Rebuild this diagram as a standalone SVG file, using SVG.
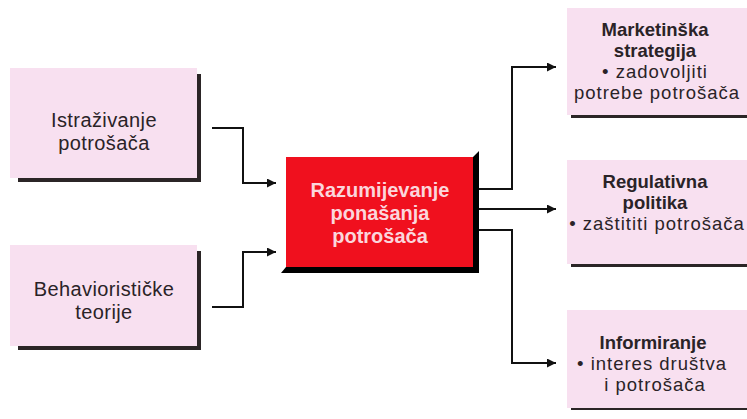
<svg xmlns="http://www.w3.org/2000/svg" width="747" height="419" viewBox="0 0 747 419">
<defs>
<style>
.box{fill:#f8e0f0}
.sh{fill:#2b2526}
.t{font-family:"Liberation Sans","Arial",sans-serif;font-size:18.5px;letter-spacing:1px;fill:#2a2327;text-anchor:middle}
.l{font-size:20px;letter-spacing:0.4px}
.b{font-weight:bold;letter-spacing:0}
.rt{font-family:"Liberation Sans","Arial",sans-serif;font-size:20px;font-weight:bold;fill:#fbd6dc;text-anchor:middle}
.c{fill:none;stroke:#111;stroke-width:2}
</style>
<marker id="ah" viewBox="0 0 10 10" refX="10" refY="5" markerWidth="10" markerHeight="9" markerUnits="userSpaceOnUse" orient="auto">
<path d="M0,0 L10,5 L0,10 z" fill="#111"/>
</marker>
</defs>
<rect width="747" height="419" fill="#fff"/>

<g id="istrazivanje">
<rect class="sh" x="18" y="74" width="183" height="108"/>
<rect class="box" x="10" y="68" width="187" height="110"/>
<text class="t l" x="104" y="127">Istraživanje</text>
<text class="t l" x="104" y="150">potrošača</text>
</g>

<g id="behavioristicke">
<rect class="sh" x="18" y="251" width="183" height="99"/>
<rect class="box" x="10" y="245" width="187" height="101"/>
<text class="t l" x="104" y="296">Behaviorističke</text>
<text class="t l" x="104" y="319">teorije</text>
</g>

<g id="razumijevanje">
<polygon fill="#000" points="473,157 479,151 479,273 281,273 286,267 473,267"/>
<rect x="286" y="157" width="187" height="110" fill="#f0101e"/>
<text class="rt" x="380" y="197">Razumijevanje</text>
<text class="rt" x="380" y="220">ponašanja</text>
<text class="rt" x="380" y="243">potrošača</text>
</g>

<g id="marketinska">
<rect class="sh" x="571" y="114" width="190" height="4"/>
<rect class="box" x="567" y="8" width="190" height="107"/>
<text class="t b" x="655" y="36">Marketinška</text>
<text class="t b" x="655" y="57">strategija</text>
<text class="t" x="655" y="78">• zadovoljiti</text>
<text class="t" x="657" y="99">potrebe potrošača</text>
</g>

<g id="regulativna">
<rect class="sh" x="571" y="263" width="190" height="4"/>
<rect class="box" x="567" y="160" width="190" height="104"/>
<text class="t b" x="655" y="188">Regulativna</text>
<text class="t b" x="655" y="209">politika</text>
<text class="t" x="657" y="230">• zaštititi potrošača</text>
</g>

<g id="informiranje">
<rect class="sh" x="571" y="407" width="190" height="3"/>
<rect class="box" x="567" y="310" width="190" height="98"/>
<text class="t b" x="653" y="349">Informiranje</text>
<text class="t" x="652" y="370">• interes društva</text>
<text class="t" x="655" y="391">i potrošača</text>
</g>

<g id="connectors">
<path class="c" d="M212,128 H243 V183 H276" marker-end="url(#ah)"/>
<path class="c" d="M212,307 H243 V252 H276" marker-end="url(#ah)"/>
<path class="c" d="M479,189 H512 V67 H556" marker-end="url(#ah)"/>
<path class="c" d="M479,209 H556" marker-end="url(#ah)"/>
<path class="c" d="M479,230 H512 V363 H556" marker-end="url(#ah)"/>
</g>
</svg>
